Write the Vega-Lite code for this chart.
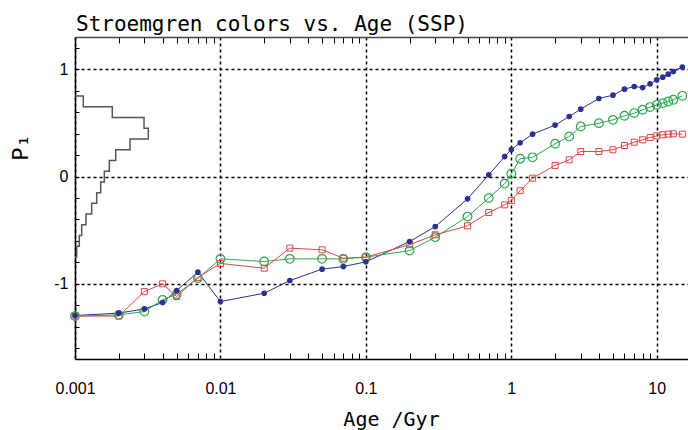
{
  "$schema": "https://vega.github.io/schema/vega-lite/v6.json",
  "autosize": {"type": "none"},
  "padding": {"left": 75, "top": 37, "right": 0, "bottom": 71},
  "width": 613,
  "height": 322,
  "background": "white",
  "config": {"view": {"stroke": null}},
  "title": {
    "text": "Stroemgren colors vs. Age (SSP)",
    "anchor": "start",
    "frame": "group",
    "font": "DejaVu Sans Mono",
    "fontSize": 21,
    "fontWeight": "normal",
    "color": "black",
    "baseline": "alphabetic",
    "offset": -15,
    "dx": 1
  },
  "datasets": {
    "ssp": [
      {"series": "blue", "age": 0.001, "p1": -1.295},
      {"series": "blue", "age": 0.002, "p1": -1.273},
      {"series": "blue", "age": 0.003, "p1": -1.233},
      {"series": "blue", "age": 0.004, "p1": -1.174},
      {"series": "blue", "age": 0.005, "p1": -1.062},
      {"series": "blue", "age": 0.007, "p1": -0.891},
      {"series": "blue", "age": 0.01, "p1": -1.165},
      {"series": "blue", "age": 0.02, "p1": -1.087},
      {"series": "blue", "age": 0.03, "p1": -0.969},
      {"series": "blue", "age": 0.05, "p1": -0.863},
      {"series": "blue", "age": 0.07, "p1": -0.839},
      {"series": "blue", "age": 0.1, "p1": -0.795},
      {"series": "blue", "age": 0.2, "p1": -0.606},
      {"series": "blue", "age": 0.3, "p1": -0.466},
      {"series": "blue", "age": 0.5, "p1": -0.208},
      {"series": "blue", "age": 0.7, "p1": 0.016},
      {"series": "blue", "age": 0.9, "p1": 0.186},
      {"series": "blue", "age": 1.0, "p1": 0.252},
      {"series": "blue", "age": 1.15, "p1": 0.315},
      {"series": "blue", "age": 1.4, "p1": 0.395},
      {"series": "blue", "age": 2, "p1": 0.479},
      {"series": "blue", "age": 2.5, "p1": 0.559},
      {"series": "blue", "age": 3, "p1": 0.628},
      {"series": "blue", "age": 4, "p1": 0.727},
      {"series": "blue", "age": 5, "p1": 0.758},
      {"series": "blue", "age": 6, "p1": 0.814},
      {"series": "blue", "age": 7, "p1": 0.839},
      {"series": "blue", "age": 8, "p1": 0.829},
      {"series": "blue", "age": 9, "p1": 0.864},
      {"series": "blue", "age": 10, "p1": 0.901},
      {"series": "blue", "age": 11, "p1": 0.926},
      {"series": "blue", "age": 12, "p1": 0.954},
      {"series": "blue", "age": 13, "p1": 0.979},
      {"series": "blue", "age": 15, "p1": 1.02},
      {"series": "green", "age": 0.001, "p1": -1.3},
      {"series": "green", "age": 0.002, "p1": -1.289},
      {"series": "green", "age": 0.003, "p1": -1.258},
      {"series": "green", "age": 0.004, "p1": -1.149},
      {"series": "green", "age": 0.005, "p1": -1.096},
      {"series": "green", "age": 0.007, "p1": -0.947},
      {"series": "green", "age": 0.01, "p1": -0.767},
      {"series": "green", "age": 0.02, "p1": -0.792},
      {"series": "green", "age": 0.03, "p1": -0.767},
      {"series": "green", "age": 0.05, "p1": -0.767},
      {"series": "green", "age": 0.07, "p1": -0.767},
      {"series": "green", "age": 0.1, "p1": -0.751},
      {"series": "green", "age": 0.2, "p1": -0.69},
      {"series": "green", "age": 0.3, "p1": -0.565},
      {"series": "green", "age": 0.5, "p1": -0.373},
      {"series": "green", "age": 0.7, "p1": -0.201},
      {"series": "green", "age": 0.9, "p1": -0.066},
      {"series": "green", "age": 1.0, "p1": 0.027},
      {"series": "green", "age": 1.15, "p1": 0.166},
      {"series": "green", "age": 1.4, "p1": 0.179},
      {"series": "green", "age": 2, "p1": 0.305},
      {"series": "green", "age": 2.5, "p1": 0.373},
      {"series": "green", "age": 3, "p1": 0.466},
      {"series": "green", "age": 4, "p1": 0.497},
      {"series": "green", "age": 5, "p1": 0.528},
      {"series": "green", "age": 6, "p1": 0.566},
      {"series": "green", "age": 7, "p1": 0.591},
      {"series": "green", "age": 8, "p1": 0.622},
      {"series": "green", "age": 9, "p1": 0.647},
      {"series": "green", "age": 10, "p1": 0.668},
      {"series": "green", "age": 11, "p1": 0.684},
      {"series": "green", "age": 12, "p1": 0.699},
      {"series": "green", "age": 13, "p1": 0.715},
      {"series": "green", "age": 15, "p1": 0.752},
      {"series": "red", "age": 0.001, "p1": -1.3},
      {"series": "red", "age": 0.002, "p1": -1.3},
      {"series": "red", "age": 0.003, "p1": -1.072},
      {"series": "red", "age": 0.004, "p1": -1.0},
      {"series": "red", "age": 0.005, "p1": -1.118},
      {"series": "red", "age": 0.007, "p1": -0.94},
      {"series": "red", "age": 0.01, "p1": -0.81},
      {"series": "red", "age": 0.02, "p1": -0.854},
      {"series": "red", "age": 0.03, "p1": -0.667},
      {"series": "red", "age": 0.05, "p1": -0.683},
      {"series": "red", "age": 0.07, "p1": -0.761},
      {"series": "red", "age": 0.1, "p1": -0.751},
      {"series": "red", "age": 0.2, "p1": -0.635},
      {"series": "red", "age": 0.3, "p1": -0.543},
      {"series": "red", "age": 0.5, "p1": -0.459},
      {"series": "red", "age": 0.7, "p1": -0.335},
      {"series": "red", "age": 0.9, "p1": -0.264},
      {"series": "red", "age": 1.0, "p1": -0.224},
      {"series": "red", "age": 1.15, "p1": -0.132},
      {"series": "red", "age": 1.4, "p1": -0.015},
      {"series": "red", "age": 2, "p1": 0.103},
      {"series": "red", "age": 2.5, "p1": 0.156},
      {"series": "red", "age": 3, "p1": 0.233},
      {"series": "red", "age": 4, "p1": 0.233},
      {"series": "red", "age": 5, "p1": 0.249},
      {"series": "red", "age": 6, "p1": 0.289},
      {"series": "red", "age": 7, "p1": 0.32},
      {"series": "red", "age": 8, "p1": 0.342},
      {"series": "red", "age": 9, "p1": 0.364},
      {"series": "red", "age": 10, "p1": 0.379},
      {"series": "red", "age": 11, "p1": 0.389},
      {"series": "red", "age": 12, "p1": 0.395},
      {"series": "red", "age": 13, "p1": 0.398},
      {"series": "red", "age": 15, "p1": 0.395}
    ],
    "hist": [
      {"k": 0, "n": 0, "p1": 0.75},
      {"k": 1, "n": 1.35, "p1": 0.75},
      {"k": 2, "n": 1.35, "p1": 0.65},
      {"k": 3, "n": 6.08, "p1": 0.65},
      {"k": 4, "n": 6.08, "p1": 0.55},
      {"k": 5, "n": 11.26, "p1": 0.55},
      {"k": 6, "n": 11.26, "p1": 0.45},
      {"k": 7, "n": 11.96, "p1": 0.45},
      {"k": 8, "n": 11.96, "p1": 0.35},
      {"k": 9, "n": 8.97, "p1": 0.35},
      {"k": 10, "n": 8.97, "p1": 0.25},
      {"k": 11, "n": 6.64, "p1": 0.25},
      {"k": 12, "n": 6.64, "p1": 0.15},
      {"k": 13, "n": 5.6, "p1": 0.15},
      {"k": 14, "n": 5.6, "p1": 0.05},
      {"k": 15, "n": 4.78, "p1": 0.05},
      {"k": 16, "n": 4.78, "p1": -0.05},
      {"k": 17, "n": 4.19, "p1": -0.05},
      {"k": 18, "n": 4.19, "p1": -0.15},
      {"k": 19, "n": 3.54, "p1": -0.15},
      {"k": 20, "n": 3.54, "p1": -0.25},
      {"k": 21, "n": 2.72, "p1": -0.25},
      {"k": 22, "n": 2.72, "p1": -0.35},
      {"k": 23, "n": 1.79, "p1": -0.35},
      {"k": 24, "n": 1.79, "p1": -0.45},
      {"k": 25, "n": 1.09, "p1": -0.45},
      {"k": 26, "n": 1.09, "p1": -0.55},
      {"k": 27, "n": 0.7, "p1": -0.55},
      {"k": 28, "n": 0.7, "p1": -0.65},
      {"k": 29, "n": 0.28, "p1": -0.65},
      {"k": 30, "n": 0.28, "p1": -0.75},
      {"k": 31, "n": 0, "p1": -0.75}
    ]
  },
  "resolve": {"scale": {"x": "independent"}},
  "layer": [
    {
      "data": {"name": "hist"},
      "mark": {"type": "line", "color": "#555555", "strokeWidth": 1.5},
      "encoding": {
        "x": {"field": "n", "type": "quantitative", "scale": {"domain": [0, 100], "nice": false}, "axis": null},
        "y": {"field": "p1", "type": "quantitative", "title": "P₁", "scale": {"domain": [-1.7, 1.3], "nice": false, "zero": false}},
        "order": {"field": "k", "type": "quantitative"}
      }
    },
    {
      "data": {"name": "ssp"},
      "mark": {"type": "line", "strokeWidth": 1},
      "encoding": {
        "x": {
          "field": "age", "type": "quantitative",
          "scale": {"type": "log", "domain": [0.001, 16.4], "nice": false},
          "axis": {
            "orient": "bottom",
            "values": [0.001, 0.002, 0.003, 0.004, 0.005, 0.006, 0.007, 0.008, 0.009, 0.01, 0.02, 0.03, 0.04, 0.05, 0.06, 0.07, 0.08, 0.09, 0.1, 0.2, 0.3, 0.4, 0.5, 0.6, 0.7, 0.8, 0.9, 1, 2, 3, 4, 5, 6, 7, 8, 9, 10],
            "tickCount": 200,
            "labelExpr": "indexof([0.001, 0.01, 0.1, 1, 10], datum.value) >= 0 ? '' + datum.value : ''",
            "title": "Age /Gyr",
            "titleFont": "DejaVu Sans Mono",
            "titleFontSize": 20,
            "titleFontWeight": "normal",
            "titleColor": "black",
            "titleX": 316,
            "titleY": 66,
            "titleBaseline": "alphabetic",
            "labelFont": "Liberation Sans",
            "labelFontSize": 16,
            "labelColor": "black",
            "labelPadding": 27,
            "labelFlush": false,
            "labelOverlap": false,
            "domainColor": "black",
            "domainWidth": 1.5,
            "tickColor": "black",
            "tickSize": -6,
            "tickWidth": 1,
            "tickOpacity": {"condition": {"test": "indexof([0.001, 0.01, 0.1, 1, 10], datum.value) >= 0", "value": 0}, "value": 1},
            "grid": true,
            "gridColor": "black",
            "gridDash": [3, 3],
            "gridWidth": 1.5,
            "gridOpacity": {"condition": {"test": "indexof([0.001, 0.01, 0.1, 1, 10], datum.value) >= 0", "value": 1}, "value": 0}
          }
        },
        "y": {
          "field": "p1", "type": "quantitative", "title": "P₁",
          "axis": {
            "orient": "left",
            "values": [-1.6, -1.4, -1.2, -1, -0.8, -0.6, -0.4, -0.2, 0, 0.2, 0.4, 0.6, 0.8, 1, 1.2],
            "tickCount": 200,
            "labelExpr": "(datum.value == -1 || datum.value == 0 || datum.value == 1) ? '' + datum.value : ''",
            "labelOverlap": false,
            "titleFont": "DejaVu Sans Mono",
            "titleFontSize": 22,
            "titleFontWeight": "normal",
            "titleColor": "black",
            "titleAngle": -90,
            "titleX": -55,
            "titleY": 110,
            "titleAlign": "center",
            "titleBaseline": "middle",
            "labelFont": "Liberation Sans",
            "labelFontSize": 16,
            "labelColor": "black",
            "labelPadding": 11,
            "domainColor": "black",
            "domainWidth": 1.5,
            "tickColor": "black",
            "tickSize": -4,
            "tickWidth": 1,
            "grid": true,
            "gridColor": "black",
            "gridDash": [3, 3],
            "gridWidth": 1.5,
            "gridOpacity": {"condition": {"test": "datum.value == -1 || datum.value == 0 || datum.value == 1", "value": 1}, "value": 0}
          }
        },
        "color": {
          "field": "series", "type": "nominal",
          "scale": {"domain": ["red", "green", "blue"], "range": ["#e04848", "#2fa84f", "#2b3190"]},
          "legend": null
        }
      }
    },
    {
      "data": {"name": "ssp"},
      "transform": [{"filter": {"field": "series", "equal": "red"}}],
      "mark": {"type": "point", "shape": "square", "filled": false, "size": 36, "strokeWidth": 1, "color": "#e04848", "opacity": 1},
      "encoding": {
        "x": {
          "field": "age", "type": "quantitative",
          "scale": {"type": "log", "domain": [0.001, 16.4], "nice": false},
          "axis": {
            "orient": "top",
            "values": [0.002, 0.003, 0.004, 0.005, 0.006, 0.007, 0.008, 0.009, 0.02, 0.03, 0.04, 0.05, 0.06, 0.07, 0.08, 0.09, 0.2, 0.3, 0.4, 0.5, 0.6, 0.7, 0.8, 0.9, 2, 3, 4, 5, 6, 7, 8, 9],
            "tickCount": 200,
            "labels": false,
            "title": null,
            "grid": false,
            "domainColor": "#444444",
            "domainWidth": 1.5,
            "tickColor": "black",
            "tickSize": -6,
            "tickWidth": 1
          }
        },
        "y": {"field": "p1", "type": "quantitative", "title": "P₁"}
      }
    },
    {
      "data": {"name": "ssp"},
      "transform": [{"filter": {"field": "series", "equal": "green"}}],
      "mark": {"type": "point", "shape": "circle", "filled": false, "size": 75, "strokeWidth": 1.2, "color": "#2fa84f", "opacity": 1},
      "encoding": {
        "x": {"field": "age", "type": "quantitative", "scale": {"type": "log", "domain": [0.001, 16.4], "nice": false}, "axis": null},
        "y": {"field": "p1", "type": "quantitative", "title": "P₁"}
      }
    },
    {
      "data": {"name": "ssp"},
      "transform": [{"filter": {"field": "series", "equal": "blue"}}],
      "mark": {"type": "point", "shape": "circle", "filled": true, "size": 32, "color": "#2b3190", "opacity": 1},
      "encoding": {
        "x": {"field": "age", "type": "quantitative", "scale": {"type": "log", "domain": [0.001, 16.4], "nice": false}, "axis": null},
        "y": {"field": "p1", "type": "quantitative", "title": "P₁"}
      }
    }
  ]
}
